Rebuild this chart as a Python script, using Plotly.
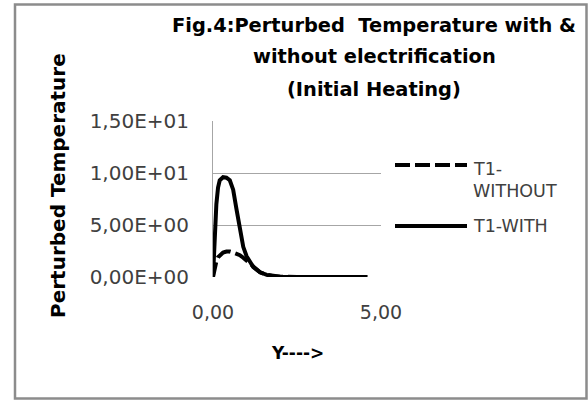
import plotly.graph_objects as go

# ---- data ----
y_pos = [0, 0.05, 0.1, 0.15, 0.2, 0.3, 0.4, 0.5, 0.6, 0.7, 0.8, 0.9, 1.0, 1.1, 1.2, 1.4, 1.6, 1.8, 2.0, 2.5, 3.0, 3.5, 4.0, 4.6]
t1_with = [0, 4.5, 7.0, 8.6, 9.3, 9.6, 9.55, 9.3, 8.4, 6.5, 4.5, 2.9, 2.0, 1.4, 0.95, 0.45, 0.2, 0.08, 0.03, 0.01, 0, 0, 0, 0]
t1_without = [0, 0.9, 1.5, 1.9, 2.1, 2.35, 2.45, 2.45, 2.35, 2.25, 2.1, 1.85, 1.55, 1.25, 0.92, 0.45, 0.2, 0.08, 0.03, 0.01, 0, 0, 0, 0]
ytick_vals = [0, 5, 10, 15]
ytick_text = ["0,00E+00", "5,00E+00", "1,00E+01", "1,50E+01"]
xtick_vals = [0, 5]
xtick_text = ["0,00", "5,00"]
title_lines = ["Fig.4:Perturbed  Temperature with &", "without electrification", "(Initial Heating)"]
legend_lines = ["T1-", "WITHOUT", "T1-WITH"]
x_title = "Y---->"
y_title = "Perturbed Temperature"

W, H = 588, 401
L, R, T, B = 213, 381, 121, 277  # plot area pixel box


def px(x):
    return (x - L) / (R - L)


def py(y):
    return (B - y) / (B - T)


FONT = "DejaVu Sans"
TXT = "#404040"

fig = go.Figure()
fig.add_trace(go.Scatter(x=y_pos, y=t1_without, mode="lines", name="T1-WITHOUT",
                         line=dict(color="black", width=4, dash="15px,5px")))
fig.add_trace(go.Scatter(x=y_pos, y=t1_with, mode="lines", name="T1-WITH",
                         line=dict(color="black", width=4)))

shapes = [
    dict(type="rect", xref="paper", yref="paper", x0=px(15), x1=px(586.5), y0=py(398.5), y1=py(4.5),
         line=dict(color="#8c8c8c", width=2.5), layer="below"),
    dict(type="line", xref="paper", yref="paper", x0=px(395), x1=px(467), y0=py(165), y1=py(165),
         line=dict(color="black", width=4, dash="15px,5px")),
    dict(type="line", xref="paper", yref="paper", x0=px(395), x1=px(467), y0=py(226), y1=py(226),
         line=dict(color="black", width=4)),
]

annotations = []
for txt, cy in zip(title_lines, [26, 57, 89]):
    annotations.append(dict(text="<b>%s</b>" % txt, xref="paper", yref="paper", x=px(374), y=py(cy),
                            showarrow=False, xanchor="center", yanchor="middle",
                            font=dict(family=FONT, size=19.4, color="black")))
for txt, cy in zip(legend_lines, [169, 191, 226]):
    annotations.append(dict(text=txt, xref="paper", yref="paper", x=px(471), y=py(cy), showarrow=False,
                            xanchor="left", yanchor="middle", font=dict(family=FONT, size=17.5, color=TXT)))
annotations.append(dict(text="<b>%s</b>" % x_title, xref="paper", yref="paper", x=px(297), y=py(353),
                        showarrow=False, xanchor="center", yanchor="middle",
                        font=dict(family=FONT, size=17, color="black")))
annotations.append(dict(text="<b>%s</b>" % y_title, xref="paper", yref="paper", x=px(58), y=py(186),
                        showarrow=False, xanchor="center", yanchor="middle", textangle=-90,
                        font=dict(family=FONT, size=20, color="black")))

fig.update_layout(
    width=W, height=H,
    margin=dict(l=L, r=W - R, t=T, b=H - B, pad=0),
    paper_bgcolor="white", plot_bgcolor="white",
    showlegend=False,
    shapes=shapes, annotations=annotations,
    xaxis=dict(range=[0, 5], tickvals=xtick_vals, ticktext=xtick_text, showgrid=False, zeroline=False,
               showline=False, ticks="", ticklabelstandoff=22,
               tickfont=dict(family=FONT, size=19, color=TXT)),
    yaxis=dict(range=[0, 15], tickvals=ytick_vals, ticktext=ytick_text, showgrid=True, gridcolor="#a6a6a6",
               gridwidth=1, zeroline=False, showline=True, linecolor="#a6a6a6", linewidth=1, ticks="",
               ticklabelstandoff=19,
               tickfont=dict(family=FONT, size=20, color=TXT)),
)

fig.write_html("out.html", config={"displayModeBar": False},
               post_script="document.body.style.margin='0';document.body.style.overflow='hidden';")
